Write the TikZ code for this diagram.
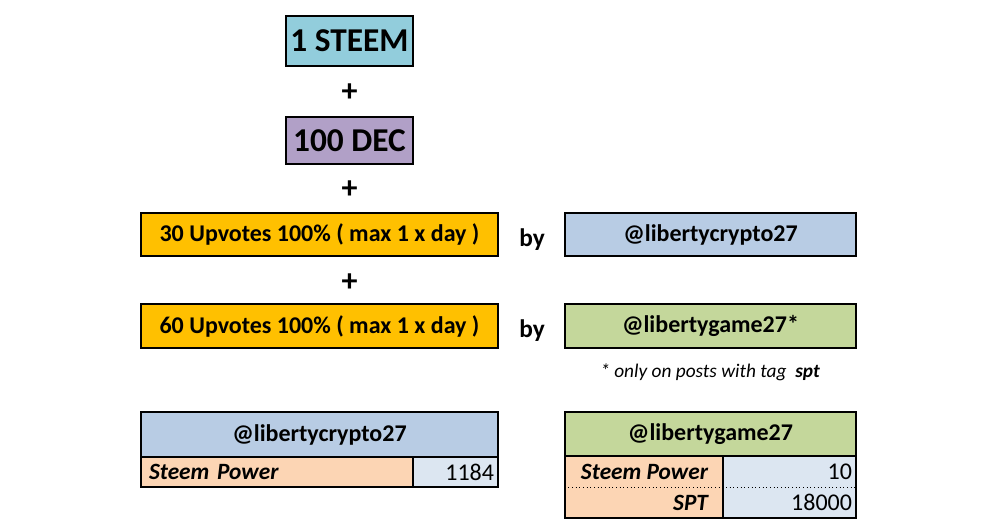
\documentclass[tikz,border=0pt]{standalone}
\usepackage{fontspec}
\setmainfont{Carlito}
\usepackage{tikz}
\usetikzlibrary{positioning, calc}

\definecolor{steemblue}{HTML}{92CDDC}
\definecolor{decpurple}{HTML}{B1A0C7}
\definecolor{upvgold}{HTML}{FFC000}
\definecolor{cryptoblue}{HTML}{B8CCE4}
\definecolor{gamegreen}{HTML}{C4D79B}
\definecolor{cellpeach}{HTML}{FCD5B4}
\definecolor{cellblue}{HTML}{DCE6F1}

\tikzset{
  coinbox/.style={draw, rectangle, line width=1.5pt, inner sep=0pt, font=\fontsize{25}{27}\selectfont\bfseries},
  votebox/.style={draw, rectangle, line width=1.5pt, inner sep=0pt, minimum height=32.5pt, font=\fontsize{18}{20}\selectfont\bfseries},
  plussign/.style={font=\fontsize{24}{24}\selectfont\bfseries},
  bytext/.style={font=\fontsize{19}{20}\selectfont\bfseries},
  headcell/.style={rectangle, inner sep=0pt, font=\fontsize{18}{20}\selectfont\bfseries},
  namecell/.style={rectangle, fill=cellpeach, inner sep=0pt, font=\fontsize{17.5}{19}\selectfont\bfseries\itshape},
  valcell/.style={rectangle, fill=cellblue, inner sep=0pt, font=\fontsize{18}{20}\selectfont},
  gridline/.style={line width=1.5pt}
}

\begin{document}
\begin{tikzpicture}[x=0.75pt, y=-0.75pt]
        \useasboundingbox (0,0) rectangle (1007,532);

        % top boxes
        \node (steem) at (349.5,41) [coinbox, fill=steemblue, minimum width=95.25pt, minimum height=37.5pt] {1 STEEM};
        \node (plusa) at (349.5,93) [plussign] {+};
        \node (dec) at (349.5,140.5) [coinbox, fill=decpurple, minimum width=95.25pt, minimum height=35.25pt] {100 DEC};
        \node (plusb) at (349.5,190) [plussign] {+};

        % upvotes
        \node (upa) at (319.5,234.5) [votebox, fill=upvgold, minimum width=267.75pt] {30 Upvotes 100\% ( max 1 x day )};
        \node (bya) at (532,240) [bytext] {by};
        \node (crypto) at (710.5,234.5) [votebox, fill=cryptoblue, minimum width=218.25pt] {@libertycrypto27};
        \node (plusc) at (349.5,283) [plussign] {+};
        \node (upb) at (319.5,326) [votebox, fill=upvgold, minimum width=267.75pt] {60 Upvotes 100\% ( max 1 x day )};
        \node (byb) at (532,331) [bytext] {by};
        \node (game) at (710.5,326) [votebox, fill=gamegreen, minimum width=218.25pt] {@libertygame27*};
        \node (note) at (710,372) [font=\fontsize{14.5}{16}\selectfont\itshape] {* only on posts with tag~~\textbf{spt}};

        % table crypto
        \node (hda) at (319.5,434.5) [headcell, fill=cryptoblue, minimum width=267.75pt, minimum height=33.75pt] {@libertycrypto27};
        \node (spa) at (277,472) [namecell, minimum width=204pt, minimum height=22.5pt, text width=192pt, align=left] {Steem Power};
        \node (spva) at (455.5,472) [valcell, minimum width=63.75pt, minimum height=22.5pt, text width=57.75pt, align=right] {1184};
        \draw[gridline] (hda.north west) rectangle (spva.south east);
        \draw[gridline] (hda.south west) -- (hda.south east);
        \draw[gridline] (spa.north east) -- (spa.south east);

        % table game
        \node (hdb) at (710.5,434) [headcell, fill=gamegreen, minimum width=218.25pt, minimum height=33pt] {@libertygame27};
        \node (spb) at (644,471.5) [namecell, minimum width=118.5pt, minimum height=23.25pt] {\makebox[96pt][r]{Steem Power}};
        \node (spvb) at (789.5,471.5) [valcell, minimum width=99.75pt, minimum height=23.25pt, text width=93.75pt, align=right] {10};
        \node (sptb) at (644,502.5) [namecell, minimum width=118.5pt, minimum height=23.25pt] {\makebox[96pt][r]{SPT}};
        \node (sptvb) at (789.5,502.5) [valcell, minimum width=99.75pt, minimum height=23.25pt, text width=93.75pt, align=right] {18000};
        \draw[dotted, line width=0.75pt] (spb.south west) -- (spvb.south east);
        \draw[gridline] (hdb.north west) rectangle (sptvb.south east);
        \draw[gridline] (hdb.south west) -- (hdb.south east);
        \draw[gridline] (spb.north east) -- (sptb.south east);
\end{tikzpicture}
\end{document}
